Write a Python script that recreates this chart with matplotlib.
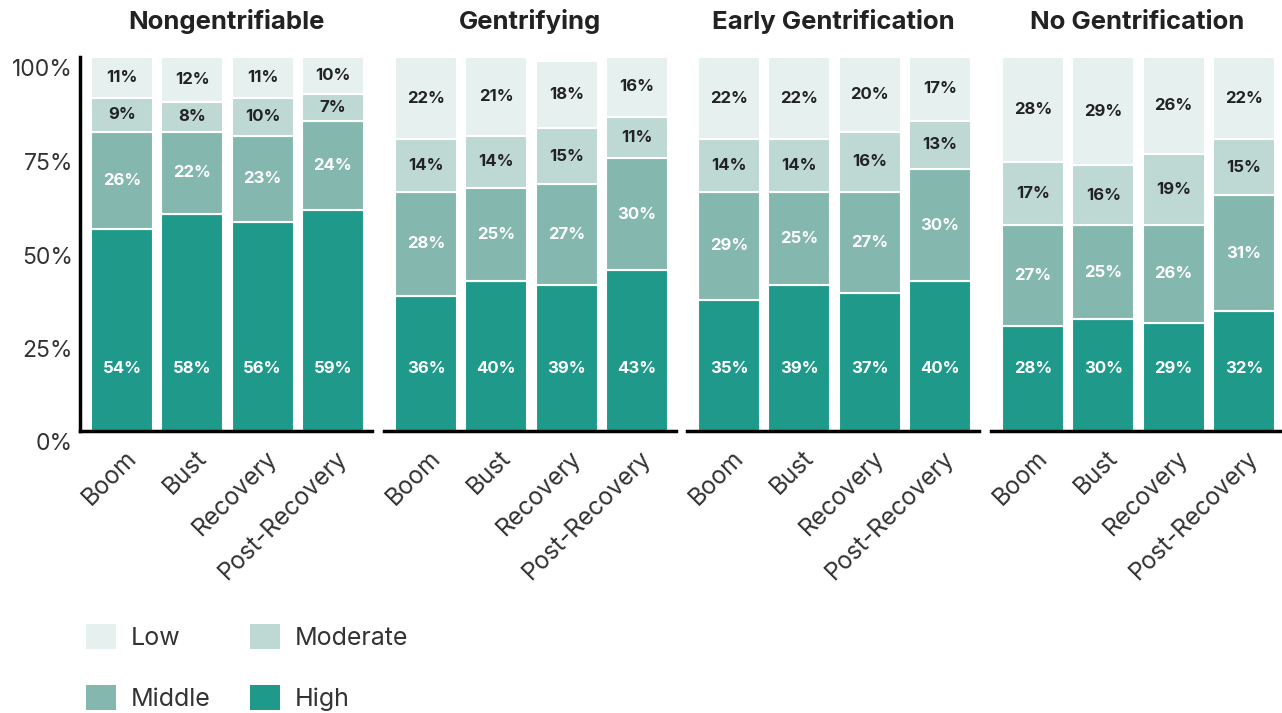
import matplotlib
matplotlib.use("Agg")
import matplotlib.pyplot as plt
import matplotlib.transforms as mtransforms
from matplotlib.patches import Patch

plt.rcParams['font.family'] = ['Inter', 'DejaVu Sans']

periods = ["Boom", "Bust", "Recovery", "Post-Recovery"]
panels = ["Nongentrifiable", "Gentrifying", "Early Gentrification", "No Gentrification"]
levels = ["High", "Middle", "Moderate", "Low"]

high = [[54, 58, 56, 59], [36, 40, 39, 43], [35, 39, 37, 40], [28, 30, 29, 32]]
middle = [[26, 22, 23, 24], [28, 25, 27, 30], [29, 25, 27, 30], [27, 25, 26, 31]]
moderate = [[9, 8, 10, 7], [14, 14, 15, 11], [14, 14, 16, 13], [17, 16, 19, 15]]
low = [[11, 12, 11, 10], [22, 21, 18, 16], [22, 22, 20, 17], [28, 29, 26, 22]]

colors = {"Low": "#e6f0ee", "Moderate": "#bed8d4", "Middle": "#84b8ae", "High": "#1f9a8a"}
text_colors = {"Low": "#222222", "Moderate": "#222222", "Middle": "white", "High": "white"}

W, H = 1282, 713
fig = plt.figure(figsize=(W / 100, H / 100), dpi=100)

lefts = [80, 384, 687, 991]
ax_w = 292
ax_bottom = 431
ax_top = 57

for p, name in enumerate(panels):
    ax = fig.add_axes([lefts[p] / W, (H - ax_bottom) / H, ax_w / W, (ax_bottom - ax_top) / H])
    series = {"High": high[p], "Middle": middle[p], "Moderate": moderate[p], "Low": low[p]}
    bottoms = [0, 0, 0, 0]
    x = list(range(4))
    for lev in levels:
        vals = series[lev]
        ax.bar(x, vals, bottom=bottoms, width=0.88, color=colors[lev],
               edgecolor="white", linewidth=1.5, zorder=2)
        for i in range(4):
            if lev == "High":
                yy = 16.8
            else:
                yy = bottoms[i] + vals[i] / 2
            ax.text(x[i], yy, f"{vals[i]}%", ha="center", va="center",
                    fontsize=12, fontweight="bold", color=text_colors[lev], zorder=3)
        bottoms = [b + v for b, v in zip(bottoms, vals)]
    ax.set_xlim(-0.597, 3.556)
    ax.set_ylim(0, 100)
    ax.set_title(name, fontsize=18.5, fontweight="bold", color="#222222", pad=20)
    for s in ["top", "right"]:
        ax.spines[s].set_visible(False)
    ax.spines["bottom"].set_linewidth(2.5)
    ax.spines["bottom"].set_color("black")
    ax.set_xticks(x)
    ax.set_xticklabels(periods, rotation=45, ha="right", va="top",
                       rotation_mode="anchor", fontsize=17.5, color="#333333")
    ax.tick_params(axis="x", length=0, pad=11)
    off_x = mtransforms.ScaledTranslation(3 / 100, 0, fig.dpi_scale_trans)
    for lab in ax.get_xticklabels():
        lab.set_transform(lab.get_transform() + off_x)
    if p == 0:
        ax.spines["left"].set_linewidth(2.5)
        ax.spines["left"].set_color("black")
        ax.set_yticks([0, 25, 50, 75, 100])
        ax.set_yticklabels(["0%", "25%", "50%", "75%", "100%"], fontsize=16.5, color="#333333")
        ax.tick_params(axis="y", length=0, pad=5)
        off_y = mtransforms.ScaledTranslation(0, -11 / 100, fig.dpi_scale_trans)
        for lab in ax.get_yticklabels():
            lab.set_transform(lab.get_transform() + off_y)
    else:
        ax.spines["left"].set_visible(False)
        ax.set_yticks([])

handles = [Patch(facecolor=colors[l], edgecolor="none") for l in ["Low", "Middle", "Moderate", "High"]]
labels = ["Low", "Middle", "Moderate", "High"]
fig.legend(handles, labels, ncol=2, loc="lower left", bbox_to_anchor=(86 / W, 2 / H),
           frameon=False, fontsize=18, handlelength=1.2, handleheight=1.2, borderpad=0,
           borderaxespad=0, handletextpad=0.6, columnspacing=1.55, labelspacing=1.4,
           labelcolor="#333333")

fig.savefig("out.png", dpi=100)
